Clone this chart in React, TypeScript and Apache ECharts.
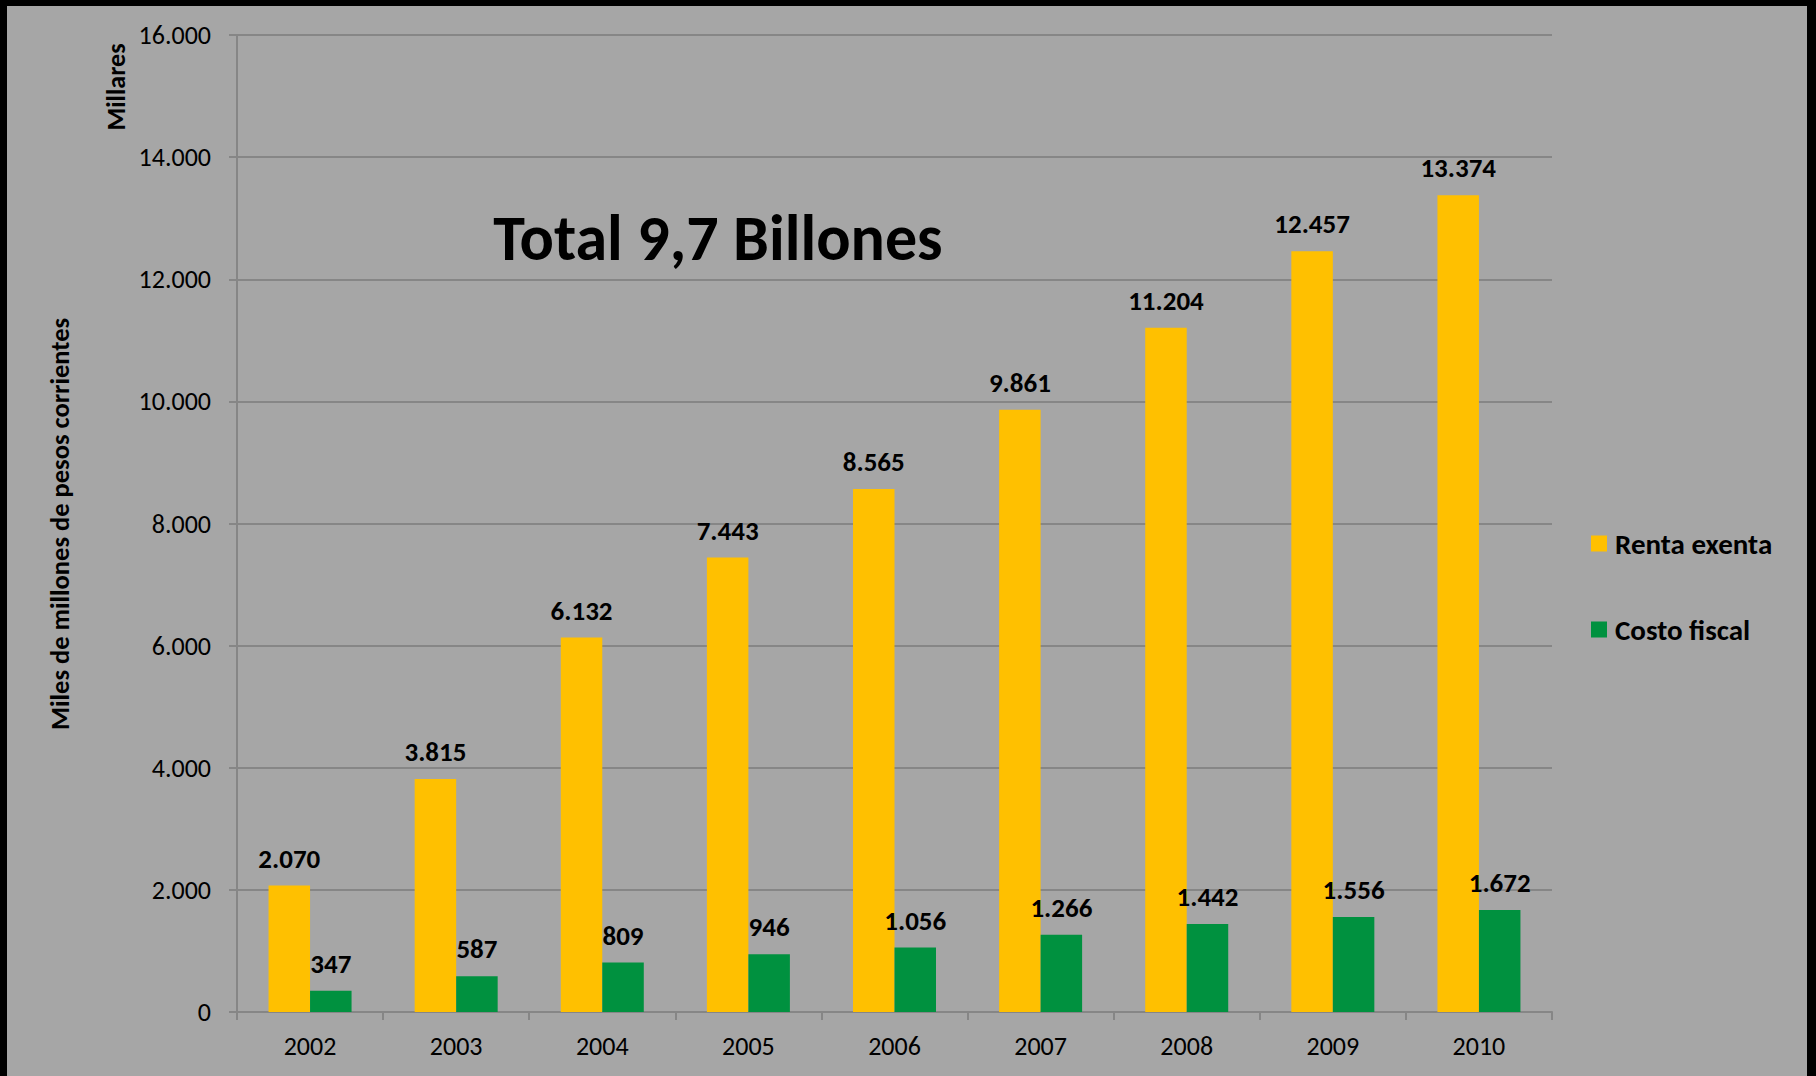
import React, { useEffect, useRef } from "react";
import * as echarts from "echarts";

const categories = ["2002", "2003", "2004", "2005", "2006", "2007", "2008", "2009", "2010"];
const rentaExenta = [2070, 3815, 6132, 7443, 8565, 9861, 11204, 12457, 13374];
const costoFiscal = [347, 587, 809, 946, 1056, 1266, 1442, 1556, 1672];
const seriesNames = ["Renta exenta", "Costo fiscal"];
const titleText = "Total 9,7 Billones";
const yAxisTitle = "Miles de millones de pesos corrientes";
const unitText = "Millares";

const FONT = 'Carlito, Lato, "Open Sans", sans-serif';

function fmt(v: number): string {
  return String(Math.round(v)).replace(/\B(?=(\d{3})+(?!\d))/g, ".");
}

export default function App() {
  const ref = useRef<HTMLDivElement>(null);
  useEffect(() => {
    if (!ref.current) return;
    const chart = echarts.init(ref.current, null, { renderer: "svg" });
    const labelStyle = {
      show: true,
      position: "top" as const,
      distance: 14,
      fontFamily: FONT,
      fontSize: 27,
      fontWeight: "bold" as const,
      color: "#000",
      formatter: (p: any) => fmt(p.value),
    };
    chart.setOption({
      animation: false,
      backgroundColor: "#A6A6A6",
      textStyle: { fontFamily: FONT },
      grid: { left: 230, top: 29, right: 255, bottom: 64, containLabel: false },
      legend: {
        orient: "vertical",
        left: 1579,
        top: 518,
        itemWidth: 16,
        itemHeight: 16,
        itemGap: 57,
        icon: "rect",
        textStyle: { fontFamily: FONT, fontSize: 29, fontWeight: "bold", color: "#000", padding: [0, 0, 0, 3] },
        data: seriesNames,
      },
      xAxis: {
        type: "category",
        data: categories,
        axisLine: { lineStyle: { color: "#868686", width: 2 } },
        axisTick: { show: true, length: 8, lineStyle: { color: "#868686", width: 2 } },
        axisLabel: { color: "#000", fontFamily: FONT, fontSize: 26, margin: 21 },
      },
      yAxis: {
        type: "value",
        min: 0,
        max: 16000,
        interval: 2000,
        axisLine: { show: true, lineStyle: { color: "#868686", width: 2 } },
        axisTick: { show: true, length: 8, lineStyle: { color: "#868686", width: 2 } },
        splitLine: { lineStyle: { color: "#868686", width: 2 } },
        axisLabel: { color: "#000", fontFamily: FONT, fontSize: 26, margin: 26, formatter: (v: number) => fmt(v) },
      },
      graphic: [
        {
          type: "text",
          x: 711,
          y: 232,
          style: {
            text: titleText,
            font: `bold 64px ${FONT}`,
            fill: "#000",
            align: "center",
            verticalAlign: "middle",
          },
        },
        {
          type: "text",
          x: 53,
          y: 518,
          rotation: Math.PI / 2,
          style: {
            text: yAxisTitle,
            font: `bold 26.5px ${FONT}`,
            fill: "#000",
            align: "center",
            verticalAlign: "middle",
          },
        },
        {
          type: "text",
          x: 109,
          y: 81,
          rotation: Math.PI / 2,
          style: {
            text: unitText,
            font: `bold 26px ${FONT}`,
            fill: "#000",
            align: "center",
            verticalAlign: "middle",
          },
        },
      ],
      series: [
        {
          name: seriesNames[0],
          type: "bar",
          data: rentaExenta,
          barWidth: 41.5,
          barGap: "0%",
          itemStyle: { color: "#FFC000" },
          label: labelStyle,
        },
        {
          name: seriesNames[1],
          type: "bar",
          data: costoFiscal,
          barWidth: 41.5,
          barGap: "0%",
          itemStyle: { color: "#00913F" },
          label: labelStyle,
        },
      ],
    });
    return () => chart.dispose();
  }, []);
  return (
    <div style={{ position: "fixed", left: 0, top: 0, width: 1816, height: 1076, background: "#000" }}>
      <div ref={ref} style={{ position: "absolute", left: 7, top: 6, width: 1800, height: 1070 }} />
    </div>
  );
}
